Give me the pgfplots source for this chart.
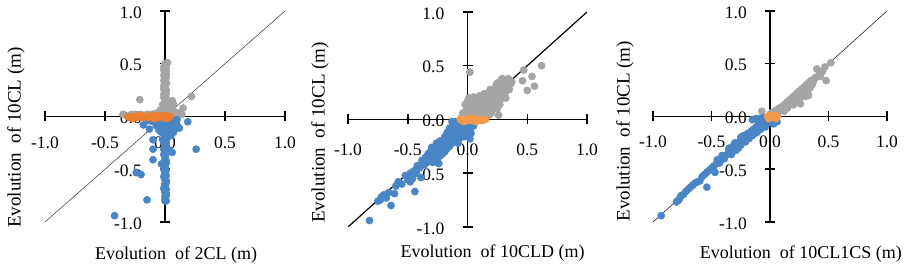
\documentclass[border=0pt]{standalone}
\usepackage{fontspec}
\setmainfont{Liberation Serif}
\usepackage{pgfplots}
\pgfplotsset{compat=1.18}
\definecolor{cblue}{HTML}{4A86C6}
\definecolor{cgray}{HTML}{A5A5A5}
\definecolor{corange}{HTML}{ED7D31}
\definecolor{corange2}{HTML}{F39A4A}
\pgfplotsset{
  panel/.style={
    set layers,
    scale only axis,
    axis lines=middle,
    axis line style={-, line width=1.5pt, black},
    inner axis line style={-},
    xmin=-1, xmax=1, ymin=-1, ymax=1,
    xtick={-1,-0.5,0,0.5,1}, ytick={-1,-0.5,0,0.5,1},
    xticklabels={-1.0,-0.5,0.0,0.5,1.0},
    yticklabels={-1.0,-0.5,0.0,0.5,1.0},
    hide obscured x ticks=false, hide obscured y ticks=false,
    tick align=center, major tick length=10pt,
    tick style={line width=1.5pt, black},
    ticklabel style={font=\fontsize{17.5}{19}\selectfont, inner sep=0pt},
    yticklabel style={anchor=east, xshift=-18pt, yshift=-1.5pt},
    label style={font=\fontsize{18}{20}\selectfont},
  },
  pts/.style={only marks, mark=*, mark size=3.6pt, color=#1, mark options={draw=#1, fill=#1, line width=0.5pt}},
}
\begin{document}
\begin{tikzpicture}[x=1pt,y=1pt]
% ---------------- Panel 1
\begin{axis}[panel, at={(45pt,42pt)}, anchor=south west, width=240pt, height=211pt,
  xticklabel style={anchor=center, yshift=-21pt},
  xlabel={Evolution~ of 2CL (m)}, ylabel={Evolution~ of 10CL (m)},
  xlabel style={at={(axis description cs:0.546,0)}, anchor=center, yshift=-33pt},
  ylabel style={at={(axis description cs:-0.121,0.40)}, anchor=center, rotate=90, font=\fontsize{19}{21}\selectfont}]
\addplot[no marks, line width=0.5pt, black!80] coordinates {(-1,-1) (1,1)};
\addplot[pts=cgray] coordinates {
(0.0,0.5) (0.02,0.51) (-0.01,0.47) (0.0,0.45) (0.01,0.43) (0.0,0.41) (-0.01,0.39) (0.01,0.37)
(0.0,0.35) (0.0,0.33) (0.01,0.31) (-0.01,0.29) (0.0,0.27) (0.01,0.25) (0.0,0.23) (-0.01,0.21)
(0.0,0.19) (0.01,0.17) (0.0,0.15) (0.02,0.13) (-0.01,0.12) (0.0,0.10) (0.03,0.09) (-0.02,0.08)
(0.0,0.06) (0.04,0.05) (-0.03,0.04) (0.06,0.03) (-0.05,0.02) (0.02,0.02) (0.08,0.01) (0.12,0.03)
(0.1,0.02) (0.05,0.1) (0.07,0.12) (0.15,0.08) (0.22,0.19) (-0.21,0.16) (-0.35,0.02) (-0.28,0.02)
(-0.12,0.02) (-0.08,0.03)
(0.01,0.49) (0.0,0.48) (0.01,0.46) (-0.01,0.44) (0.0,0.42) (0.01,0.4) (0.0,0.38) (0.0,0.36)
(-0.01,0.34) (0.01,0.32) (0.0,0.3) (0.0,0.28) (-0.01,0.26) (0.0,0.24) (0.01,0.22) (0.0,0.2)
(-0.01,0.18) (0.0,0.16) (0.01,0.14) (-0.02,0.11) (0.02,0.07) (0.01,0.04) (-0.01,0.03) (0.03,0.03)
(0.05,0.06) (0.09,0.04) (-0.04,0.06) (0.04,0.08) (0.14,0.02) (-0.15,0.02) (-0.2,0.02) (-0.25,0.02)
(0.06,0.15)};
\addplot[pts=cblue] coordinates {
(0.0,-0.02) (0.01,-0.05) (-0.02,-0.07) (0.03,-0.09) (-0.04,-0.1) (0.05,-0.12) (0.0,-0.13) (-0.03,-0.15)
(0.02,-0.17) (0.0,-0.19) (0.01,-0.21) (-0.01,-0.24) (0.0,-0.27) (0.01,-0.3) (0.0,-0.33) (-0.01,-0.36)
(0.0,-0.39) (0.01,-0.42) (-0.02,-0.45) (0.0,-0.48) (0.01,-0.51) (0.0,-0.54) (-0.01,-0.57) (0.0,-0.6)
(0.01,-0.63) (0.0,-0.66) (0.01,-0.69) (0.0,-0.72) (0.01,-0.75) (0.0,-0.78) (0.01,-0.8)
(-0.08,-0.03) (-0.06,-0.06) (0.06,-0.04) (0.08,-0.07) (-0.1,-0.05) (0.1,-0.03) (-0.14,-0.04) (0.04,-0.15)
(0.07,-0.15) (0.09,-0.1)
(-0.42,-0.94) (-0.15,-0.79) (-0.24,-0.53) (-0.2,-0.55) (0.26,-0.31) (0.06,-0.34) (0.04,-0.32) (-0.1,-0.41)
(-0.1,-0.31) (-0.1,-0.22) (-0.13,-0.12) (-0.18,-0.08) (0.12,-0.11) (0.19,-0.05) (-0.01,-0.47) (-0.03,-0.45)
(0.0,-0.04) (-0.01,-0.11) (0.01,-0.14) (0.02,-0.2) (0.0,-0.22) (0.01,-0.25) (0.0,-0.29) (-0.01,-0.31)
(0.01,-0.35) (0.0,-0.37) (0.0,-0.41) (0.01,-0.44) (0.0,-0.46) (-0.01,-0.5) (0.0,-0.52) (0.01,-0.56)
(0.0,-0.58) (0.01,-0.61) (0.0,-0.64) (-0.01,-0.68) (0.0,-0.7) (0.01,-0.73) (0.0,-0.76) (0.0,-0.8)
(-0.05,-0.02) (0.03,-0.02) (0.06,-0.08) (-0.07,-0.09) (-0.05,-0.13) (0.04,-0.06) (0.08,-0.12) (0.1,-0.08)
(-0.02,-0.04) (0.05,-0.18) (-0.02,-0.22)};
\addplot[pts=corange] coordinates {
(-0.31,0.0) (-0.28,-0.01) (-0.25,0.0) (-0.22,0.0) (-0.19,-0.01) (-0.16,0.0) (-0.13,0.0) (-0.1,-0.01)
(-0.07,0.0) (-0.04,0.0) (-0.01,-0.01) (0.02,0.0) (0.04,0.0) (-0.2,0.01) (-0.12,0.01) (-0.05,0.01)
(0.0,0.01) (-0.27,-0.02) (-0.09,-0.02) (0.01,-0.02)
(-0.295,-0.01) (-0.235,-0.01) (-0.175,0.0) (-0.145,-0.01) (-0.115,0.0) (-0.085,0.0) (-0.055,-0.01)
(-0.025,0.0) (0.005,0.0) (0.03,-0.01)};
\end{axis}
% ---------------- Panel 2
\begin{axis}[panel, at={(348pt,37pt)}, anchor=south west, width=239pt, height=215pt,
  xticklabel style={anchor=center, yshift=-25.5pt},
  xlabel={Evolution~ of 10CLD (m)}, ylabel={Evolution~ of 10CL (m)},
  xlabel style={at={(axis description cs:0.605,0)}, anchor=center, yshift=-26.5pt},
  ylabel style={at={(axis description cs:-0.117,0.44)}, anchor=center, rotate=90, font=\fontsize{19}{21}\selectfont}]
\addplot[no marks, line width=1.2pt, black] coordinates {(-1,-1) (1,1)};
\addplot[pts=cgray] coordinates {
(-0.05,0.02) (-0.04,0.06) (-0.02,0.04) (-0.01,0.09) (0.0,0.03) (0.0,0.12) (0.01,0.06) (0.02,0.15)
(0.02,0.1) (0.03,0.02) (0.04,0.08) (0.04,0.17) (0.05,0.12) (0.06,0.04) (0.06,0.19) (0.07,0.1)
(0.08,0.15) (0.08,0.03) (0.09,0.2) (0.1,0.07) (0.1,0.13) (0.11,0.18) (0.12,0.1) (0.12,0.22)
(0.13,0.05) (0.14,0.15) (0.15,0.2) (0.15,0.11) (0.16,0.24) (0.17,0.08) (0.18,0.17) (0.19,0.22)
(0.2,0.13) (0.2,0.27) (0.21,0.19) (0.22,0.24) (0.23,0.15) (0.24,0.29) (0.25,0.21) (0.26,0.26)
(0.27,0.18) (0.28,0.31) (0.29,0.24) (0.3,0.28) (0.31,0.33) (0.32,0.26) (0.33,0.35) (0.34,0.3)
(0.35,0.37) (0.36,0.33) (0.29,0.38) (0.25,0.34) (0.26,0.04) (0.02,0.44) (0.62,0.5) (0.47,0.46)
(0.54,0.4) (0.46,0.36) (0.5,0.27) (0.56,0.31) (0.12,0.02) (0.18,0.04)
(0.0,0.07) (0.0,0.17) (0.01,0.2) (-0.02,0.14) (0.05,0.02) (0.05,0.16) (0.05,0.21) (0.03,0.13)
(0.1,0.03) (0.1,0.17) (0.1,0.22) (0.09,0.1) (0.15,0.05) (0.15,0.16) (0.14,0.24) (0.2,0.08)
(0.2,0.2) (0.19,0.28) (0.25,0.1) (0.25,0.28) (0.24,0.32) (0.3,0.2) (0.3,0.35) (0.28,0.36)
(0.35,0.28) (0.37,0.35) (0.34,0.38) (0.2,0.06) (0.22,0.1) (0.27,0.14) (0.32,0.2)};
\addplot[pts=cblue] coordinates {
(-0.1,-0.02) (-0.07,-0.05) (-0.04,-0.02) (-0.02,-0.08) (0.0,-0.04) (0.02,-0.1) (0.04,-0.03) (0.05,-0.06)
(-0.12,-0.08) (-0.09,-0.12) (-0.06,-0.14) (-0.03,-0.16) (0.0,-0.12) (0.01,-0.16) (0.02,-0.18) (-0.14,-0.13)
(-0.16,-0.18) (-0.12,-0.2) (-0.08,-0.22) (-0.19,-0.16) (-0.2,-0.23) (-0.17,-0.27) (-0.23,-0.2) (-0.24,-0.28)
(-0.21,-0.32) (-0.27,-0.26) (-0.28,-0.33) (-0.25,-0.36) (-0.31,-0.3) (-0.32,-0.37) (-0.29,-0.4) (-0.35,-0.35)
(-0.36,-0.42) (-0.24,-0.41) (-0.39,-0.54) (-0.37,-0.42) (-0.43,-0.5) (-0.44,-0.67) (-0.48,-0.58) (-0.48,-0.5)
(-0.5,-0.56) (-0.6,-0.62) (-0.61,-0.69) (-0.64,-0.8) (-0.7,-0.7) (-0.73,-0.75) (-0.72,-0.72) (-0.82,-0.94)
(0.01,-0.09)
(-0.05,-0.06) (-0.08,-0.08) (-0.11,-0.05) (-0.13,-0.02) (-0.02,-0.12) (0.03,-0.13) (-0.05,-0.1) (-0.1,-0.16)
(-0.07,-0.18) (-0.13,-0.22) (-0.15,-0.25) (-0.18,-0.21) (-0.19,-0.3) (-0.22,-0.25) (-0.26,-0.3) (-0.23,-0.34)
(-0.29,-0.35) (-0.3,-0.26) (-0.33,-0.32) (-0.34,-0.4) (-0.38,-0.38) (-0.4,-0.45) (-0.42,-0.43) (-0.45,-0.48)
(-0.46,-0.55) (-0.52,-0.52) (-0.55,-0.6) (-0.58,-0.58) (-0.66,-0.68) (-0.68,-0.73) (-0.75,-0.76) (-0.03,-0.05)
(0.03,-0.07) (-0.15,-0.08) (-0.17,-0.12) (-0.2,-0.19) (-0.26,-0.22)};
\addplot[pts=corange2] coordinates {
(-0.06,0.0) (-0.04,-0.01) (-0.02,0.0) (0.0,-0.01) (0.02,0.0) (0.04,-0.01) (0.06,0.0) (0.08,-0.01)
(0.1,0.0) (0.12,-0.01) (0.15,0.0) (-0.03,-0.02) (0.03,0.01) (0.07,-0.02) (0.05,0.01)};
\end{axis}
% ---------------- Panel 3
\begin{axis}[panel, at={(653pt,42pt)}, anchor=south west, width=234pt, height=211pt,
  xticklabel style={anchor=center, yshift=-20.5pt},
  xlabel={Evolution~ of 10CL1CS (m)}, ylabel={Evolution~ of 10CL (m)},
  xlabel style={at={(axis description cs:0.632,0)}, anchor=center, yshift=-32pt},
  ylabel style={at={(axis description cs:-0.12,0.43)}, anchor=center, rotate=90, font=\fontsize{19}{21}\selectfont}]
\addplot[no marks, line width=0.6pt, black!85] coordinates {(-1,-1) (1,1)};
\addplot[pts=cgray] coordinates {
(-0.07,0.05) (0.0,0.02) (0.02,0.04) (0.04,0.03) (0.05,0.06) (0.07,0.05) (0.08,0.08) (0.1,0.07)
(0.11,0.1) (0.12,0.08) (0.13,0.12) (0.14,0.1) (0.15,0.14) (0.16,0.11) (0.17,0.16) (0.18,0.13)
(0.19,0.18) (0.2,0.14) (0.21,0.2) (0.22,0.16) (0.23,0.22) (0.24,0.18) (0.25,0.24) (0.26,0.2)
(0.27,0.26) (0.28,0.21) (0.29,0.28) (0.3,0.23) (0.31,0.3) (0.32,0.25) (0.33,0.32) (0.34,0.27)
(0.35,0.34) (0.36,0.3) (0.38,0.36) (0.4,0.45) (0.48,0.34) (0.47,0.47) (0.52,0.51) (0.42,0.4)
(0.45,0.43) (0.37,0.33) (0.2,0.11) (0.25,0.16) (0.15,0.08) (0.3,0.19) (0.26,0.12) (0.33,0.2)
(0.09,0.06) (0.06,0.02) (0.12,0.05) (0.17,0.12) (0.22,0.19) (0.27,0.22) (0.29,0.25) (0.31,0.26)
(0.35,0.31) (0.39,0.37) (0.43,0.38) (0.44,0.42)};
\addplot[pts=cblue] coordinates {
(-0.03,-0.02) (-0.05,-0.05) (-0.02,-0.06) (0.0,-0.03) (0.03,-0.04) (0.05,-0.02) (-0.08,-0.05) (-0.07,-0.09)
(-0.1,-0.08) (-0.04,-0.1) (-0.12,-0.1) (-0.1,-0.13) (-0.14,-0.12) (-0.13,-0.16) (-0.16,-0.14) (-0.17,-0.18)
(-0.19,-0.16) (-0.2,-0.2) (-0.22,-0.18) (-0.24,-0.19) (-0.23,-0.23) (-0.26,-0.24) (-0.28,-0.26) (-0.3,-0.29)
(-0.32,-0.31) (-0.34,-0.33) (-0.36,-0.35) (-0.38,-0.37) (-0.4,-0.39) (-0.42,-0.41) (-0.44,-0.43) (-0.46,-0.45)
(-0.48,-0.47) (-0.5,-0.49) (-0.47,-0.53) (-0.54,-0.53) (-0.54,-0.67) (-0.6,-0.61) (-0.62,-0.62) (-0.66,-0.65)
(-0.7,-0.69) (-0.72,-0.71) (-0.77,-0.77) (-0.79,-0.8) (-0.93,-0.94) (-0.3,-0.25) (-0.25,-0.2) (-0.35,-0.3)
(-0.15,-0.03) (-0.12,-0.02) (-0.09,-0.02) (-0.06,-0.01) (0.03,-0.07) (0.06,-0.05)
(-0.05,-0.08) (-0.08,-0.12) (-0.11,-0.15) (-0.15,-0.18) (-0.18,-0.21) (-0.21,-0.24) (-0.25,-0.27) (-0.27,-0.3)
(-0.29,-0.32) (-0.31,-0.27) (-0.33,-0.36) (-0.35,-0.32) (-0.39,-0.4) (-0.41,-0.37) (-0.43,-0.44) (-0.45,-0.41)
(-0.49,-0.5) (-0.52,-0.51) (-0.56,-0.55) (-0.58,-0.57) (-0.64,-0.63) (-0.68,-0.67) (-0.74,-0.74) (-0.76,-0.75)
(-0.8,-0.81) (-0.78,-0.79)};
\addplot[pts=corange2] coordinates {
(-0.02,0.0) (0.0,-0.01) (0.02,0.0) (0.04,-0.01) (0.06,0.0) (0.0,0.01) (0.03,0.01) (0.05,-0.02) (-0.01,-0.02)};
\end{axis}
\pgfresetboundingbox
\path[use as bounding box] (0,0) rectangle (904,264);
\end{tikzpicture}
\end{document}
